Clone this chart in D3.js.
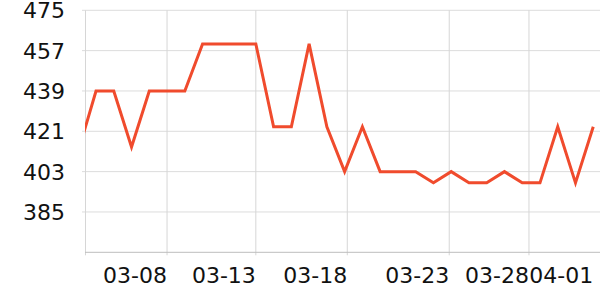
<!DOCTYPE html>
<html>
<head>
<meta charset="utf-8">
<script src="https://cdn.jsdelivr.net/npm/d3@7"></script>
<style>
  body { margin: 0; background: #fff; }
  text { font-family: "DejaVu Sans", sans-serif; fill: #111; }
</style>
</head>
<body>
<div id="chart"></div>
<script>
// day labels, one per point (the first one sits left of the plot and is clipped)
const dates = ['03-03', '03-04', '03-05', '03-06', '03-07', '03-08', '03-09', '03-10',
    '03-11', '03-12', '03-13', '03-14', '03-15', '03-16', '03-17', '03-18', '03-19',
    '03-20', '03-21', '03-22', '03-23', '03-24', '03-25', '03-26', '03-27', '03-28',
    '03-29', '03-30', '03-31', '04-01'];
const values = [412, 439, 439, 414, 439, 439, 439, 460, 460, 460, 460, 423, 423, 460,
    423, 403, 423, 403, 403, 403, 398, 403, 398, 398, 403, 398, 398, 423, 398, 423];

const yTicks = [385, 403, 421, 439, 457, 475];
// x ticks as position in day units (0 = 03-04)
const xTickPos = [4, 9, 14.15, 19.89, 24.38];
const xTickLabels = ['03-08', '03-13', '03-18', '03-23', '03-28'];
const lastLabel = '04-01';

const width = 600, height = 300;
const margin = { top: 10, right: 0, bottom: 48, left: 85 };

const svg = d3.select('#chart').append('svg')
    .attr('width', width)
    .attr('height', height);

const x = d3.scaleLinear()
    .domain([-0.62, 28.38])
    .range([margin.left, width - margin.right]);

const y = d3.scaleLinear()
    .domain([367, 475])
    .range([height - margin.bottom + 0.3, margin.top + 0.3]);

const plotBottom = y(367);

// horizontal grid + y labels
svg.append('g')
    .selectAll('line')
    .data(yTicks)
    .enter()
    .append('line')
    .attr('x1', margin.left - 3)
    .attr('x2', width)
    .attr('y1', d => y(d))
    .attr('y2', d => y(d))
    .attr('stroke', '#dcdcdc')
    .attr('stroke-width', 1);

svg.append('g')
    .selectAll('text')
    .data(yTicks)
    .enter()
    .append('text')
    .attr('x', 65)
    .attr('y', d => y(d))
    .attr('dy', '0.36em')
    .attr('text-anchor', 'end')
    .attr('font-size', '22px')
    .text(d => d);

// vertical grid
svg.append('g')
    .selectAll('line')
    .data(xTickPos)
    .enter()
    .append('line')
    .attr('x1', d => x(d))
    .attr('x2', d => x(d))
    .attr('y1', y(475))
    .attr('y2', plotBottom + 3)
    .attr('stroke', '#d6d6d6')
    .attr('stroke-width', 1);

// left axis line
svg.append('line')
    .attr('x1', margin.left + 0.5)
    .attr('x2', margin.left + 0.5)
    .attr('y1', y(475))
    .attr('y2', plotBottom + 3)
    .attr('stroke', '#d6d6d6');

// bottom axis line
svg.append('line')
    .attr('x1', margin.left)
    .attr('x2', width)
    .attr('y1', plotBottom)
    .attr('y2', plotBottom)
    .attr('stroke', '#bdbdbd')
    .attr('stroke-width', 1);

// x labels, right aligned on their tick
svg.append('g')
    .selectAll('text')
    .data(xTickPos)
    .enter()
    .append('text')
    .attr('x', d => x(d))
    .attr('y', 283)
    .attr('text-anchor', 'end')
    .attr('font-size', '22px')
    .text((d, i) => xTickLabels[i]);

svg.append('text')
    .attr('x', x(dates.indexOf(lastLabel) - 1))
    .attr('y', 283)
    .attr('text-anchor', 'end')
    .attr('font-size', '22px')
    .text(lastLabel);

// line, clipped to the plot
svg.append('clipPath')
    .attr('id', 'plot-clip')
    .append('rect')
    .attr('x', margin.left)
    .attr('y', 0)
    .attr('width', width - margin.left)
    .attr('height', plotBottom);

const line = d3.line()
    .x((d, i) => x(i - 1))
    .y(d => y(d));

svg.append('path')
    .datum(values)
    .attr('clip-path', 'url(#plot-clip)')
    .attr('fill', 'none')
    .attr('stroke', '#f04b2d')
    .attr('stroke-width', 3)
    .attr('stroke-linejoin', 'miter')
    .attr('d', line);
</script>
</body>
</html>
